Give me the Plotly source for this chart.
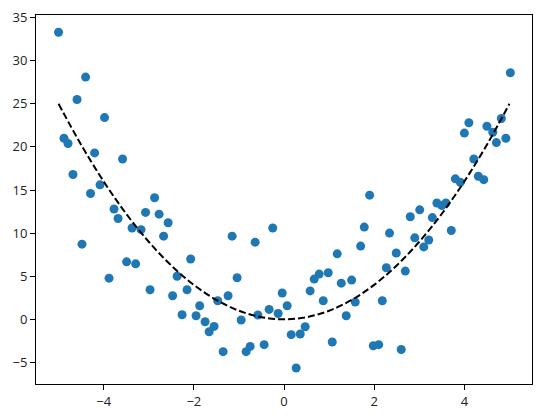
import plotly.graph_objects as go

# scatter points
x_pts = [-5.00, -4.88, -4.79, -4.68, -4.59, -4.48, -4.40, -4.29, -4.20, -4.08,
         -3.98, -3.88, -3.77, -3.68, -3.58, -3.49, -3.37, -3.29, -3.17, -3.07,
         -2.97, -2.87, -2.77, -2.67, -2.57, -2.47, -2.37, -2.26, -2.15, -2.07,
         -1.95, -1.87, -1.75, -1.66, -1.55, -1.47, -1.35, -1.24, -1.15, -1.04,
         -0.95, -0.84, -0.75, -0.64, -0.58, -0.44, -0.33, -0.25, -0.13, -0.04,
         0.07, 0.16, 0.27, 0.36, 0.47, 0.58, 0.67, 0.78, 0.87, 0.98,
         1.07, 1.18, 1.27, 1.38, 1.50, 1.58, 1.70, 1.78, 1.90, 1.98,
         2.10, 2.18, 2.27, 2.34, 2.49, 2.60, 2.69, 2.80, 2.90, 3.01,
         3.10, 3.21, 3.29, 3.39, 3.50, 3.59, 3.71, 3.80, 3.91, 4.00,
         4.10, 4.21, 4.31, 4.43, 4.50, 4.63, 4.71, 4.82, 4.92, 5.02]
y_pts = [33.3, 21.0, 20.4, 16.8, 25.5, 8.72, 28.1, 14.6, 19.3, 15.6,
         23.4, 4.78, 12.8, 11.7, 18.6, 6.67, 10.6, 6.44, 10.4, 12.4,
         3.43, 14.1, 12.2, 9.65, 11.2, 2.73, 5.0, 0.53, 3.43, 7.0,
         0.42, 1.58, -0.28, -1.44, -0.82, 2.15, -3.75, 2.73, 9.65, 4.82,
         -0.08, -3.75, -3.14, 8.95, 0.5, -2.94, 1.15, 10.6, 0.68, 3.05,
         1.58, -1.78, -5.65, -1.7, -0.86, 3.3, 4.67, 5.25, 2.15, 5.4,
         -2.63, 7.6, 4.2, 0.42, 4.55, 2.0, 8.5, 10.7, 14.4, -3.06,
         -2.94, 2.15, 5.98, 10.0, 7.7, -3.5, 5.6, 11.9, 9.45, 12.7,
         8.4, 9.2, 11.8, 13.5, 13.2, 13.5, 10.3, 16.3, 15.9, 21.6,
         22.8, 18.6, 16.6, 16.2, 22.4, 21.7, 20.5, 23.3, 21.0, 28.6]

# dashed fit curve
x_fit = [-5.0, -4.5, -4.0, -3.5, -3.0, -2.5, -2.0, -1.5, -1.0, -0.5, 0.0,
         0.5, 1.0, 1.5, 2.0, 2.5, 3.0, 3.5, 4.0, 4.5, 5.0]
y_fit = [25.0, 20.25, 16.0, 12.25, 9.0, 6.25, 4.0, 2.25, 1.0, 0.25, 0.0,
         0.25, 1.0, 2.25, 4.0, 6.25, 9.0, 12.25, 16.0, 20.25, 25.0]

x_ticks = [-4, -2, 0, 2, 4]
y_ticks = [-5, 0, 5, 10, 15, 20, 25, 30, 35]

fig = go.Figure()
fig.add_trace(go.Scatter(x=x_pts, y=y_pts, mode='markers',
                         marker=dict(color='#1f77b4', size=9, line=dict(width=0)),
                         showlegend=False))
fig.add_trace(go.Scatter(x=x_fit, y=y_fit, mode='lines', line_shape='spline',
                         line=dict(color='black', width=2, dash='7px,3px'),
                         showlegend=False))

axis_style = dict(showline=True, linecolor='black', linewidth=1, mirror=True,
                  showgrid=False, zeroline=False, ticks='outside', ticklen=5,
                  tickwidth=1, tickcolor='black', automargin=False)
fig.update_xaxes(range=[-5.5, 5.5], tickvals=x_ticks, **axis_style)
fig.update_yaxes(range=[-7.5, 35.3], tickvals=y_ticks,
                 ticklabeloverflow='allow', **axis_style)

# page body adds an 8px offset, so the figure is a bit smaller than the window
fig.update_layout(width=534, height=410,
                  margin=dict(l=28, r=10, t=7, b=34),
                  plot_bgcolor='white', paper_bgcolor='white',
                  font=dict(family='Open Sans', size=13, color='#222222'))
fig.write_html("out.html")
